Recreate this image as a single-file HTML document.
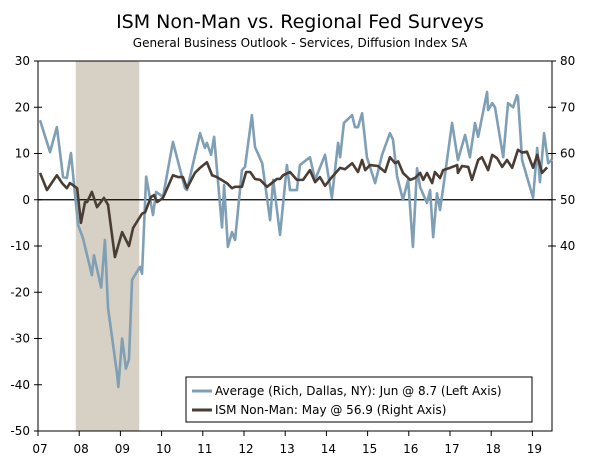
<!DOCTYPE html>
<html><head><meta charset="utf-8"><style>
body{margin:0;background:#fff;font-family:"DejaVu Sans","Liberation Sans",sans-serif;}
svg text{font-family:"DejaVu Sans","Liberation Sans",sans-serif;fill:#000}
</style></head><body>
<svg id="chart" width="600" height="456">
<text x="300" y="28" text-anchor="middle" font-size="19">ISM Non-Man vs. Regional Fed Surveys</text>
<text x="300" y="47" text-anchor="middle" font-size="12">General Business Outlook - Services, Diffusion Index SA</text>
<g id="plot"></g>
</svg>
<script>
const avgMonths=[0.6,3.5,5.5,7.3,8.4,9.6,10.8,11.7,13.1,15.7,16.3,18.4,19.5,20.4,23,23.4,24.5,25.6,26.5,27.4,29.7,30.3,31.5,33.5,34.4,36.4,39.3,42.8,43.4,47.2,48.6,49.2,50.4,51.3,53.6,54.2,55.3,56.5,57.4,59.4,60.3,62.3,63.2,65.3,67.6,68.5,70.5,72.5,73.4,75.4,76.3,79.2,80.7,83.6,85.6,87.4,88,89.1,91.5,92.3,93.2,94.4,95.8,98.2,100.2,102.5,103.4,104.6,106.3,107.8,109.2,110.4,111.3,113.3,114.2,115.1,116.2,117.1,118.6,120.6,122.3,124.4,125.8,127.3,128.2,130.8,131.1,132.3,133.1,135.5,136.9,138.4,139.5,139.8,141,144.2,145.4,146.2,147.4,148.6,149.7];
const avgValues=[17.2,10.3,15.7,4.9,4.7,10.1,1,-5.5,-8.3,-16.3,-12,-19,-8.7,-23.4,-37.5,-40.5,-30,-36.5,-34.5,-17.3,-14.5,-16,5,-3.3,1.7,0.6,12.5,2.5,2.1,14.4,11.2,12.3,9.7,13.6,-6,3.2,-10.2,-7,-8.7,6.4,7.1,18.3,11.4,7.9,-4.4,4.3,-7.6,7.5,2.1,2.1,7.5,9.2,4.3,9.7,0.4,12.3,9.2,16.6,18.3,15.7,15.7,18.7,9.2,3.6,9.7,14.4,13,5,0,4.3,-10.2,6.8,2.7,-0.7,2.1,-8.1,1.4,-2.2,5.7,16.6,8.6,14,9.2,16.6,13.6,23.3,19.4,20.9,20,9.2,20.9,20,22.6,22.2,8.6,0.4,11.2,3.8,14.4,7.9,8.7];
const ismMonths=[0.6,2.6,5.5,7,8.4,9.3,11.4,12.5,13.7,14.3,15.7,17.2,19.2,20.4,22.4,24.5,26.5,27.7,30.3,31.2,32.9,33.8,34.7,36.4,39.3,40.8,42.2,43.4,45.7,47.2,49.2,50.7,52.1,55,56.5,57.4,59.4,60.6,61.8,63.2,64.7,66.7,69.6,70.5,71.4,73.4,75.4,77.2,79.2,80.7,82.1,83.6,85.6,88,89.4,91.5,93.2,94.4,95.3,96.7,99,101.1,102.5,104,104.9,106.3,108.4,109.8,111.3,112.2,113.3,114.8,115.6,117.1,118,120,122.1,122.3,123.5,125.3,126.4,128.2,129.3,131.1,132.3,133.7,135.2,136.6,138.1,139.8,141,142.4,144.2,145.4,146.8,148.3];
const ismValues=[55.8,52.1,55.3,53.6,52.5,53.6,52.5,45,49.5,49.5,51.7,48.4,50.4,48.9,37.6,43,40,43.9,47,47.3,50.6,51,49.5,50.4,55.3,54.9,54.9,52.5,55.8,56.9,58.1,55.3,54.9,53.6,52.5,52.8,52.8,56,56,54.5,54.3,52.8,54.5,54.5,55.3,56,54.3,54.3,56.4,53.8,54.9,53,54.9,56.9,56.6,57.9,56,58.6,56.4,57.5,57.3,56,59.2,57.9,58.3,55.8,54.3,54.7,55.8,54.3,55.8,53.6,56,54.7,56.4,56.9,57.5,55.8,57.3,57.1,54.3,58.6,59.2,56.4,59.7,59,57.1,58.6,56.9,60.8,60.2,60.4,56.9,59.7,55.8,57];
const leftTicks=[30,20,10,0,-10,-20,-30,-40,-50];
const rightTicks=[80,70,60,50,40];
const yearLabels=["07","08","09","10","11","12","13","14","15","16","17","18","19"];
const recession=[11,29.5];

const NS="http://www.w3.org/2000/svg";
const g=document.getElementById('plot');
const L=38,R=552,T=61,B=431;
const xS=m=>L+m/12*41.2;
const yL=v=>T+(30-v)/80*(B-T);
const yR=v=>yL(v-50);
function mk(t,a){const e=document.createElementNS(NS,t);for(const k in a)e.setAttribute(k,a[k]);g.appendChild(e);return e;}
let e=mk('rect',{x:xS(recession[0]),y:T,width:xS(recession[1])-xS(recession[0]),height:B-T,fill:'#d6d1c4'});


e=mk('line',{x1:L,x2:R,y1:yL(0),y2:yL(0),stroke:'#000','stroke-width':1.3});


e=mk('rect',{x:L,y:T,width:R-L,height:B-T,fill:'none',stroke:'#000','stroke-width':1});


leftTicks.forEach(v=>{
 const y=yL(v);
 e=mk('line',{x1:L-4,x2:L+4,y1:y,y2:y,stroke:'#000'});
 
 
 e=mk('text',{x:L-8,y:y+4,'text-anchor':'end','font-size':12});e.textContent=v;
 
 
});
rightTicks.forEach(v=>{
 const y=yR(v);
 e=mk('line',{x1:R-4,x2:R+4,y1:y,y2:y,stroke:'#000'});
 
 
 e=mk('text',{x:R+8,y:y+4,'text-anchor':'start','font-size':12});e.textContent=v;
 
 
});
yearLabels.forEach((s,i)=>{
 const x=xS(i*12);
 e=mk('line',{x1:x,x2:x,y1:B,y2:B+5,stroke:'#000'});
 
 
 e=mk('text',{x:x+2,y:453,'text-anchor':'middle','font-size':12});e.textContent=s;
 
 
});
e=mk('polyline',{points:avgMonths.map((m,i)=>xS(m)+','+yL(avgValues[i])).join(' '),fill:'none',stroke:'#7f9fb5','stroke-width':2.6,'stroke-linejoin':'round'});


e=mk('polyline',{points:ismMonths.map((m,i)=>xS(m)+','+yR(ismValues[i])).join(' '),fill:'none',stroke:'#4a3d33','stroke-width':2.6,'stroke-linejoin':'round'});


e=mk('rect',{x:186,y:377,width:346,height:45,fill:'#fff',stroke:'#000'});


e=mk('line',{x1:192,x2:212,y1:391,y2:391,stroke:'#7f9fb5','stroke-width':3});


e=mk('text',{x:215,y:395,'font-size':12});e.textContent='Average (Rich, Dallas, NY): Jun @ 8.7  (Left Axis)';


e=mk('line',{x1:192,x2:212,y1:410,y2:410,stroke:'#4a3d33','stroke-width':3});


e=mk('text',{x:215,y:414,'font-size':12});e.textContent='ISM Non-Man: May @ 56.9  (Right Axis)';


</script>
</body></html>
